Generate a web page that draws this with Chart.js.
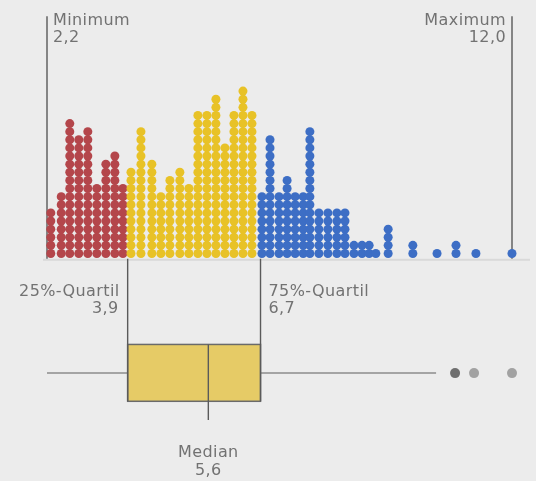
<!DOCTYPE html>
<html>
<head>
<meta charset="utf-8">
<script src="https://cdn.jsdelivr.net/npm/chart.js@4.4.1/dist/chart.umd.min.js"></script>
<style>
  html, body { margin: 0; padding: 0; background: #ececec; }
  canvas { display: block; }
</style>
</head>
<body>
<canvas id="dotChart" width="536" height="481"></canvas>
<script>
// Dot columns: x value of each column and how many dots are stacked in it
const redX = [2.28, 2.50, 2.68, 2.87, 3.06, 3.25, 3.44, 3.63, 3.80];
const redCount = [6, 8, 17, 15, 16, 9, 12, 13, 9];
const yellowX = [3.97, 4.18, 4.41, 4.60, 4.79, 5.00, 5.19, 5.38, 5.57, 5.76, 5.95, 6.14, 6.33, 6.52];
const yellowCount = [11, 16, 12, 8, 10, 11, 9, 18, 18, 20, 14, 18, 21, 18];
const blueX = [6.73, 6.90, 7.09, 7.26, 7.43, 7.60, 7.74, 7.93, 8.12, 8.31, 8.48, 8.67, 8.84, 8.99, 9.13, 9.39, 9.91, 10.42, 10.82, 11.24, 12.00];
const blueCount = [8, 15, 8, 10, 8, 8, 16, 6, 6, 6, 6, 2, 2, 2, 1, 4, 2, 1, 2, 1, 1];

// Box plot summary
const minimum = 2.2;
const q1 = 3.9;
const median = 5.6;
const q3 = 6.7;
const maximum = 12.0;
const whiskerHigh = 10.4;
const outliers = [10.8, 11.2, 12.0];

// vertical level (in dot rows) of the box plot whiskers
const whiskerLevel = -14.73;

const fmt = v => v.toFixed(1).replace('.', ',');

function toPoints(xs, counts) {
  const pts = [];
  xs.forEach((x, i) => {
    for (let k = 0; k < counts[i]; k++) pts.push({ x: x, y: k });
  });
  return pts;
}

// Lines, box and labels drawn against the chart's scales
const boxPlotPlugin = {
  id: 'boxPlot',
  beforeDatasetsDraw(chart) {
    const ctx = chart.ctx;
    const x = chart.scales.x;
    const y = chart.scales.y;
    const px = v => x.getPixelForValue(v);
    const base = y.getPixelForValue(-0.65);
    const top = y.getPixelForValue(29.2);
    const boxTop = y.getPixelForValue(-11.2);
    const boxBottom = y.getPixelForValue(-18.2);
    const whiskerY = y.getPixelForValue(whiskerLevel);
    const medBottom = y.getPixelForValue(-20.5);

    ctx.save();
    // light baseline under the dots
    ctx.strokeStyle = '#d9d9d9';
    ctx.lineWidth = 2;
    ctx.beginPath();
    ctx.moveTo(px(minimum) - 4, base + 1);
    ctx.lineTo(530, base + 1);
    ctx.stroke();

    // whiskers
    ctx.strokeStyle = '#8c8c8c';
    ctx.lineWidth = 1.5;
    ctx.beginPath();
    ctx.moveTo(px(minimum), whiskerY);
    ctx.lineTo(px(q1), whiskerY);
    ctx.moveTo(px(q3), whiskerY);
    ctx.lineTo(px(whiskerHigh), whiskerY);
    ctx.stroke();

    // box
    ctx.fillStyle = '#e6cb66';
    ctx.fillRect(px(q1), boxTop, px(q3) - px(q1), boxBottom - boxTop);
    ctx.strokeStyle = '#6a6a6a';
    ctx.lineWidth = 1.5;
    ctx.strokeRect(px(q1), boxTop, px(q3) - px(q1), boxBottom - boxTop);

    // vertical guide lines
    ctx.strokeStyle = '#5a5a5a';
    ctx.lineWidth = 1.4;
    ctx.beginPath();
    ctx.moveTo(px(minimum), top); ctx.lineTo(px(minimum), base);
    ctx.moveTo(px(maximum), top); ctx.lineTo(px(maximum), base);
    ctx.moveTo(px(q1), base); ctx.lineTo(px(q1), boxBottom);
    ctx.moveTo(px(q3), base); ctx.lineTo(px(q3), boxBottom);
    ctx.moveTo(px(median), boxTop); ctx.lineTo(px(median), medBottom);
    ctx.stroke();

    // labels
    ctx.fillStyle = '#727272';
    ctx.font = '16px "DejaVu Sans"';
    ctx.letterSpacing = '0.4px';
    ctx.textBaseline = 'middle';
    ctx.textAlign = 'left';
    ctx.fillText('Minimum', px(minimum) + 6, 21);
    ctx.fillText(fmt(minimum), px(minimum) + 6, 38);
    ctx.fillText('75%-Quartil', px(q3) + 8, 292);
    ctx.fillText(fmt(q3), px(q3) + 8, 309);
    ctx.textAlign = 'right';
    ctx.fillText('Maximum', px(maximum) - 6, 21);
    ctx.fillText(fmt(maximum), px(maximum) - 6, 38);
    ctx.fillText('25%-Quartil', px(q1) - 8, 292);
    ctx.fillText(fmt(q1), px(q1) - 9, 309);
    ctx.textAlign = 'center';
    ctx.fillText('Median', px(median), 453);
    ctx.fillText(fmt(median), px(median), 471);
    ctx.restore();
  }
};

const dotStyle = color => ({
  backgroundColor: color,
  borderWidth: 0,
  pointRadius: 4.5,
  pointHoverRadius: 4.5,
  clip: false
});

new Chart(document.getElementById('dotChart'), {
  type: 'scatter',
  data: {
    datasets: [
      Object.assign({ label: 'Q2-Q3', data: toPoints(yellowX, yellowCount), order: 0 }, dotStyle('#e8c227')),
      Object.assign({ label: 'Q1', data: toPoints(redX, redCount), order: 1 }, dotStyle('#b4464b')),
      Object.assign({ label: 'Q4', data: toPoints(blueX, blueCount), order: 2 }, dotStyle('#3d6ec5')),
      {
        label: 'Ausreißer',
        data: outliers.map(v => ({ x: v, y: whiskerLevel })),
        backgroundColor: ['#6f6f6f', '#a2a2a2', '#a2a2a2'],
        borderWidth: 0,
        pointRadius: 5,
        clip: false,
        order: 3
      }
    ]
  },
  options: {
    responsive: false,
    animation: false,
    devicePixelRatio: 1,
    layout: { padding: { left: 47, right: 24, top: 0, bottom: 0 } },
    plugins: { legend: { display: false }, tooltip: { enabled: false } },
    events: [],
    scales: {
      x: { type: 'linear', min: minimum, max: maximum, display: false },
      y: { type: 'linear', min: -27.4, max: 30.6, display: false }
    }
  },
  plugins: [boxPlotPlugin]
});
</script>
</body>
</html>
